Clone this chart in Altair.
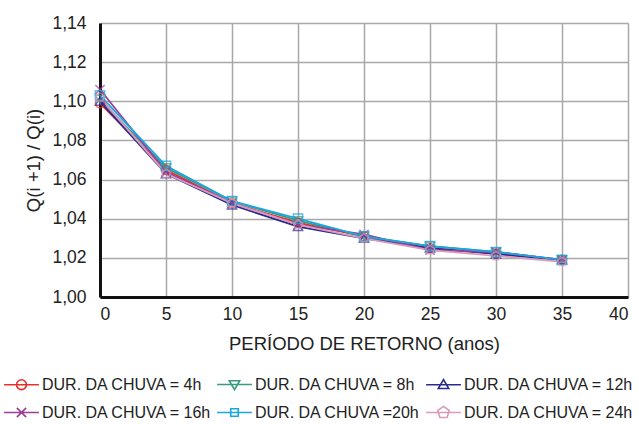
import re
import altair as alt
import pandas as pd

periodo = [0, 5, 10, 15, 20, 25, 30, 35]
series = ["DUR. DA CHUVA = 4h", "DUR. DA CHUVA = 8h", "DUR. DA CHUVA = 12h",
          "DUR. DA CHUVA = 16h", "DUR. DA CHUVA =20h", "DUR. DA CHUVA = 24h"]
v4 = [1.099, 1.065, 1.048, 1.038, 1.031, 1.025, 1.022, 1.019]
v8 = [1.101, 1.066, 1.049, 1.039, 1.031, 1.026, 1.023, 1.019]
v12 = [1.100, 1.063, 1.047, 1.036, 1.030, 1.025, 1.022, 1.019]
v16 = [1.106, 1.064, 1.048, 1.037, 1.032, 1.024, 1.023, 1.019]
v20 = [1.103, 1.067, 1.049, 1.040, 1.031, 1.026, 1.023, 1.019]
v24 = [1.102, 1.063, 1.048, 1.037, 1.030, 1.024, 1.021, 1.018]
values = [v4, v8, v12, v16, v20, v24]
y_ticks = [1.00, 1.02, 1.04, 1.06, 1.08, 1.10, 1.12, 1.14]
x_ticks = [0, 5, 10, 15, 20, 25, 30, 35, 40]

colors = ["#e8302a", "#3a9a80", "#2b2b8f", "#9b3e9a", "#1aa7e0", "#d99bbb"]

pent = "M0,-1L0.951,-0.309L0.588,0.809L-0.588,0.809L-0.951,-0.309Z"
xcross = "M-1,-1L1,1M-1,1L1,-1"
shapes = ["circle", "triangle-down", "triangle-up", xcross, "square", pent]


def scaled(path, s):
    def rep(m):
        return f"{float(m.group(1)) * s:.3f},{float(m.group(2)) * s:.3f}"
    return re.sub(r"(-?[\d.]+),(-?[\d.]+)", rep, path)


r = 0.34
circ_leg = f"M-{r},0A{r},{r} 0 1,0 {r},0A{r},{r} 0 1,0 -{r},0"
tri_down = "M-0.36,-0.26L0.36,-0.26L0,0.36Z"
tri_up = "M-0.36,0.26L0.36,0.26L0,-0.36Z"
sq = "M-0.26,-0.26L0.26,-0.26L0.26,0.26L-0.26,0.26Z"
line = "M-1.2,0L1.2,0"
leg_shapes = [
    line + circ_leg,
    line + tri_down,
    line + tri_up,
    line + scaled(xcross, 0.32),
    line + sq,
    line + scaled(pent, 0.42),
]

rows = []
for s, vals in zip(series, values):
    for p, v in zip(periodo, vals):
        rows.append({"Periodo": p, "Razao": v, "Serie": s, "Legenda": s})
df = pd.DataFrame(rows)

font = "Liberation Sans"

x_enc = alt.X("Periodo:Q", scale=alt.Scale(domain=[0, 40], nice=False),
              axis=alt.Axis(values=x_ticks, title="PERÍODO DE RETORNO (anos)",
                            grid=True, ticks=False, labelPadding=8, titlePadding=12,
                            labelFontSize=17.5, titleFontSize=18.5, titleFontWeight="normal",
                            labelColor="#222", titleColor="#222",
                            domainColor="#111", domainWidth=3,
                            gridColor="#a8a8a8", gridWidth=1.5,
                            labelFont=font, titleFont=font))
y_enc = alt.Y("Razao:Q", scale=alt.Scale(domain=[1.0, 1.14], nice=False, zero=False),
              axis=alt.Axis(values=y_ticks, title="Q(i +1) / Q(i)",
                            labelExpr="replace(format(datum.value, '.2f'), '.', ',')",
                            grid=True, ticks=False, labelPadding=14, titlePadding=8,
                            labelFontSize=17.5, titleFontSize=18.5, titleFontWeight="normal",
                            labelColor="#222", titleColor="#222",
                            domainColor="#111", domainWidth=3,
                            gridColor="#a8a8a8", gridWidth=1.5,
                            labelFont=font, titleFont=font))

color_scale = alt.Scale(domain=series, range=colors)

lines = alt.Chart(df).mark_line(strokeWidth=1.8).encode(
    x=x_enc, y=y_enc,
    color=alt.Color("Serie:N", scale=color_scale, legend=None),
    detail="Serie:N",
)

points = alt.Chart(df).mark_point(filled=False, strokeWidth=1.5, size=85).encode(
    x=x_enc, y=y_enc,
    color=alt.Color("Serie:N", scale=color_scale, legend=None),
    shape=alt.Shape("Serie:N", scale=alt.Scale(domain=series, range=shapes), legend=None),
)

leg = alt.Legend(orient="none", legendX=-94, legendY=346, direction="horizontal",
                 columns=3, symbolSize=841, symbolStrokeWidth=1.6,
                 symbolOpacity=1, labelFontSize=16, labelFont=font,
                 labelColor="#222", labelOffset=5, columnPadding=1,
                 rowPadding=4, labelLimit=300, title=None, padding=0)

legend_layer = alt.Chart(df).mark_point(filled=False, opacity=0).encode(
    x=x_enc, y=y_enc,
    color=alt.Color("Legenda:N", scale=alt.Scale(domain=series, range=colors),
                    sort=series, legend=leg),
    shape=alt.Shape("Legenda:N", scale=alt.Scale(domain=series, range=leg_shapes),
                    sort=series, legend=leg),
)

chart = alt.layer(lines, points, legend_layer).resolve_scale(
    color="independent", shape="independent"
).properties(
    width=528, height=274,
    autosize=alt.AutoSizeParams(type="none"),
    padding={"left": 100, "top": 23, "right": 11, "bottom": 127},
).configure_view(stroke=None).configure(background="white")

chart.save("out.html", embed_options={"renderer": "svg", "actions": False})
